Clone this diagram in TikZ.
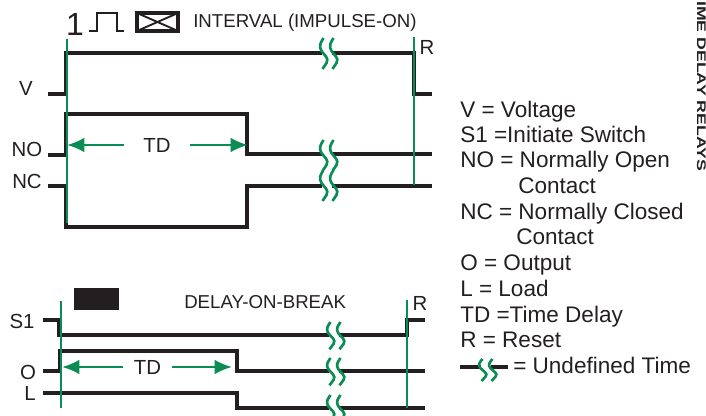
\documentclass[tikz,border=0pt]{standalone}
\usepackage{fontspec}
\usepackage{graphicx}
\setmainfont{Liberation Sans}
\usetikzlibrary{arrows.meta,positioning,calc}
\definecolor{tdgreen}{RGB}{10,140,85}
\definecolor{inkblack}{RGB}{35,31,32}
\tikzset{
  trace/.style={line width=3.2pt,draw=inkblack,line join=miter},
  guide/.style={line width=2pt,draw=tdgreen},
  span/.style={line width=1.7pt,draw=tdgreen,-{Latex[length=13pt,width=11pt]}},
  lab/.style={font=\fontsize{15.3}{15}\selectfont,text=inkblack,inner sep=0pt},
  heading/.style={font=\fontsize{14}{14}\selectfont,text=inkblack,inner sep=0pt,anchor=base west},
  key/.style={font=\fontsize{16.9}{17}\selectfont,text=inkblack,inner sep=0pt,anchor=base west},
  pics/wave/.style={code={
    \fill[white] (3,0) rectangle (13,31);
    \foreach \dx in {0,10}
      \draw[line width=2pt,draw=tdgreen,xshift=\dx*0.75pt]
        (4.5,0) .. controls (1.5,5) and (-0.5,8) .. (2.5,13)
        .. controls (5,17) and (10.5,20) .. (7.5,25) .. controls (6.5,27) and (4.5,29) .. (3.5,31);
  }}
}
\begin{document}
\begin{tikzpicture}[x=0.75pt,y=-0.75pt]
\useasboundingbox (0,0) rectangle (706,416);
\clip (0,0) rectangle (706,416);
% upper chart
\node[lab,font=\fontsize{24}{24}\selectfont] (one) at (75,24) {1};
\draw[line width=1.5pt,draw=inkblack] (89,31) -- (97,31) -- (97,13) -- (117,13) -- (117,31) -- (124,31);
\draw[line width=2.6pt,draw=inkblack,fill=white] (137,13) rectangle (178,31);
\draw[line width=1.4pt,draw=inkblack] (137,13) -- (178,31) (137,31) -- (178,13);
\node[heading] (title) at (193,28) {INTERVAL (IMPULSE-ON)};
\node[lab] (v) at (26,88) {V};
\node[lab] (no) at (27,149) {NO};
\node[lab] (nc) at (27,181) {NC};
\node[lab] (r) at (427,47) {R};
\draw[trace] (48,94) -- (66,94) -- (66,53) -- (414,53) -- (414,94) -- (432,94);
\draw[trace] (48,155) -- (66,155) -- (66,114) -- (247,114) -- (247,154) -- (432,154);
\draw[trace] (48,186) -- (66,186) -- (66,227) -- (247,227) -- (247,186) -- (432,186);
\coordinate (atop) at (67,39);
\coordinate (abot) at (67,223);
\coordinate (btop) at (414,37);
\coordinate (bbot) at (414,185);
\draw[guide] (atop) -- (abot);
\draw[guide] (btop) -- (bbot);
\pic at (319,38) {wave};
\pic at (319,140) {wave};
\pic at (319,170) {wave};
\node[lab,minimum width=49.5pt] (td) at (157,145) {TD};
\coordinate (tdl) at (67,145);
\coordinate (tdr) at (248,145);
\draw[span] (td.west) -- (tdl);
\draw[span] (td.east) -- (tdr);
% lower chart
\fill[inkblack] (74,288.5) rectangle (119,310);
\node[heading] (brk) at (184,309) {DELAY-ON-BREAK};
\node[lab] (s) at (22,321) {S1};
\node[lab] (o) at (28,372) {O};
\node[lab] (l) at (30,393) {L};
\node[lab] (rr) at (420,303) {R};
\draw[trace] (43,320) -- (59,320) -- (59,335) -- (407,335) -- (407,320) -- (425,320);
\draw[trace] (43,371) -- (60,371) -- (60,351) -- (237,351) -- (237,371) -- (425,371);
\draw[trace] (43,393) -- (237,393) -- (237,408) -- (425,408);
\coordinate (ctop) at (61,301);
\coordinate (cbot) at (61,408);
\coordinate (dtop) at (407,300);
\coordinate (dbot) at (407,408);
\draw[guide] (ctop) -- (cbot);
\draw[guide] (dtop) -- (dbot);
\pic[yscale=0.88] at (326,322) {wave};
\pic[yscale=0.88] at (326,358) {wave};
\pic[yscale=0.88] at (326,395) {wave};
\node[lab,minimum width=36.75pt] (te) at (147.5,367) {TD};
\coordinate (tel) at (62,367);
\coordinate (ter) at (232,367);
\draw[span] (te.west) -- (tel);
\draw[span] (te.east) -- (ter);
% legend
\foreach \px/\py/\txt in {460/118/{V = Voltage},460/143/{S1 =Initiate Switch},
    460/168/{NO = Normally Open},518/194/{Contact},460/220/{NC = Normally Closed},
    516/245/{Contact},460/271/{O = Output},460/297/{L = Load},
    460/322/{TD =Time Delay},460/348/{R = Reset},513/373/{= Undefined Time}}
  \node[key] at (\px,\py) {\txt};
\draw[trace] (460,367) -- (508,367);
\pic[yscale=0.71] at (478,359) {wave};
\node[inner sep=0pt,anchor=base west,rotate=-90,font=\bfseries\fontsize{9.4}{10}\selectfont,text=inkblack] (side) at (697,1) {\scalebox{1.41}[1]{IME DELAY RELAYS}};
\end{tikzpicture}
\end{document}
